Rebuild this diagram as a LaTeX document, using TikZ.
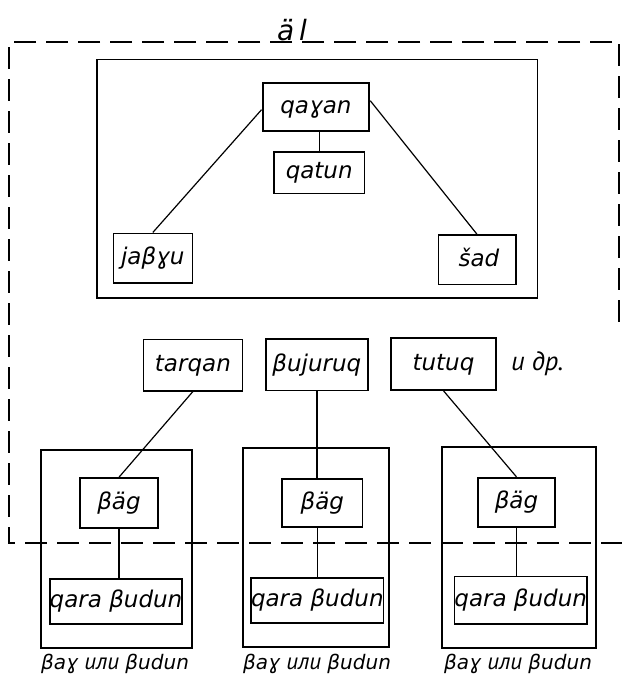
\documentclass[tikz,border=0pt]{standalone}
\usepackage{fontspec}
\newfontfamily\lf{DejaVu Sans}
\newfontfamily\cy{PT Sans}[Scale=1.15]
\newcommand{\cyit}[1]{{\cy\itshape #1}}
\begin{document}
\begin{tikzpicture}[x=1pt,y=-1pt,
  txt/.style={inner sep=0pt, font=\lf\itshape\fontsize{23}{27}\selectfont, text height=12.6pt, text depth=0pt},
  box/.style={txt, draw, line width=1.6pt},
  grp/.style={draw, line width=1.7pt, inner sep=0pt},
  link/.style={line width=1.2pt},
  dsh/.style={line width=2.2pt, dash pattern=on 22pt off 10pt},
  lbl/.style={inner sep=0pt, font=\lf\itshape\fontsize{20}{24}\selectfont, text height=11pt, text depth=0pt}]
\useasboundingbox (0,0) rectangle (622,680);
% outer dashed frame of al
\coordinate (fr1) at (619,330);
\coordinate (fr2) at (619,44);
\coordinate (fr3) at (9,42);
\coordinate (fr4) at (9,543);
\coordinate (fr5) at (622,543);
\draw[dsh] (fr2) -- (fr1);
\draw[dsh] (612,42) -- (fr3) -- (fr4) -- (fr5);
\node[txt, font=\lf\itshape\fontsize{28}{32}\selectfont, text height=15.3pt] (al) at (292,33) {ä\hspace{5pt}l};
% top group
\node[grp, minimum width=440.5pt, minimum height=238.7pt] (top) at (317.2,178.7) {};
\node[box, line width=2.4pt, minimum width=106.3pt, minimum height=48pt] (qagan) at (315.9,106.7) {qaɣan};
\node[box, minimum width=90.3pt, minimum height=41.6pt] (qatun) at (319.2,172.5) {qatun};
\node[box, minimum width=79pt, minimum height=49.4pt] (jabgu) at (152.8,258) {jaβɣu};
\node[box, minimum width=77.4pt, minimum height=49.3pt] (sad) at (477,259.7) {\hspace{4pt}šad};
\draw[link] (qagan.south -| qatun.north) -- (qatun.north);
\draw[link] ([yshift=-3pt]qagan.west) -- (jabgu.north);
\draw[link] ([yshift=6pt]qagan.east) -- (sad.north);
% middle row
\node[box, minimum width=99.2pt, minimum height=51.4pt] (tarqan) at (192.9,365) {tarqan};
\node[box, minimum width=101.7pt, minimum height=51.5pt] (bujuruq) at (316.9,364.8) {βujuruq};
\node[box, minimum width=105pt, minimum height=52pt] (tutuq) at (443.5,364) {tutuq};
\node[txt, anchor=west] (idr) at (511,364) {\cyit{и др.}};
% bottom groups
\node[grp, minimum width=151pt, minimum height=198pt] (g1) at (116.2,549) {};
\node[box, minimum width=78pt, minimum height=50pt] (bag1) at (119,503) {βäg};
\node[box, minimum width=126pt, minimum height=45pt] (qara1) at (116,601.5) {qara βudun};
\node[grp, minimum width=146.6pt, minimum height=198.7pt] (g2) at (316,547.3) {};
\node[box, minimum width=80.7pt, minimum height=48pt] (bag2) at (322.3,503) {βäg};
\node[box, minimum width=123.3pt, minimum height=45pt] (qara2) at (317.3,600.5) {qara βudun};
\node[grp, minimum width=154.3pt, minimum height=201pt] (g3) at (518.8,547.2) {};
\node[box, minimum width=77pt, minimum height=49pt] (bag3) at (516.5,502.2) {βäg};
\node[box, minimum width=130pt, minimum height=47.3pt] (qara3) at (520.7,600.3) {qara βudun};
\draw[link] (tarqan.south) -- (bag1.north);
\draw[link] (bujuruq.south) -- (bujuruq.south |- bag2.north);
\draw[link] (tutuq.south) -- (bag3.north);
\draw[link] (bag1.south) -- (bag1.south |- qara1.north);
\draw[link] (qara2.north) -- (qara2.north |- bag2.south);
\draw[link] (bag3.south) -- (bag3.south |- qara3.north);
\node[lbl] (l1) at (115,664) {βaɣ \cyit{или} βudun};
\node[lbl] (l2) at (317,664) {βaɣ \cyit{или} βudun};
\node[lbl] (l3) at (518,664) {βaɣ \cyit{или} βudun};
\end{tikzpicture}
\end{document}
